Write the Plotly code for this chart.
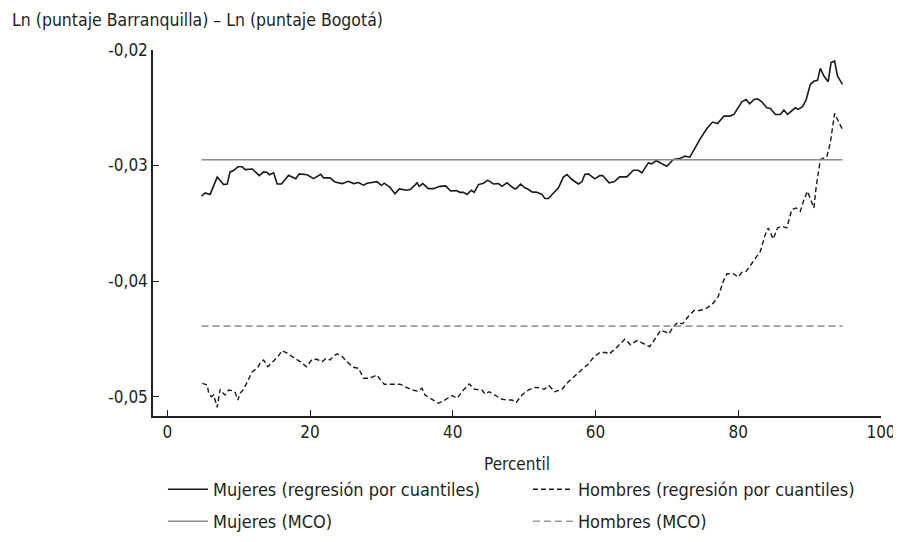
import plotly.graph_objects as go

# ---------------- data ----------------
muj_pct = [4.8, 5.3, 6.0, 7.0, 7.9, 8.4, 8.8, 9.3, 9.9, 10.5, 10.9, 11.9, 12.9, 13.5, 14.0, 14.3, 14.9,
           15.4, 16.0, 17.0, 18.0, 18.5, 19.6, 20.5, 21.5, 21.9, 22.8, 23.5, 24.5, 25.4, 26.1, 26.8,
           27.5, 28.0, 29.4, 30.0, 30.4, 31.2, 31.9, 32.5, 33.6, 34.1, 35.0, 35.3, 35.8, 36.6, 37.3,
           38.2, 39.0, 39.7, 40.5, 41.0, 41.5, 42.0, 42.6, 43.0, 43.6, 44.3, 44.9, 45.7, 46.4, 46.9,
           47.6, 48.6, 48.9, 49.5, 50.1, 50.5, 51.1, 51.8, 52.5, 52.9, 53.4, 54.1, 54.8, 55.5, 56.0,
           56.7, 57.6, 58.1, 58.5, 59.0, 59.9, 60.6, 61.0, 61.9, 62.6, 63.4, 64.4, 65.3, 66.0, 66.5,
           67.4, 67.9, 68.5, 69.3, 70.0, 70.9, 71.8, 72.5, 73.2, 73.7, 74.6, 75.6, 76.4, 77.1, 78.0,
           78.8, 79.4, 80.5, 81.1, 81.6, 82.2, 82.7, 83.3, 84.0, 84.5, 85.2, 85.9, 86.4, 86.9, 88.0,
           88.4, 89.0, 89.5, 90.1, 90.6, 91.1, 91.5, 92.0, 92.6, 93.0, 93.5, 93.9, 94.6]
muj_qr = [-0.03266, -0.03237, -0.03250, -0.03100, -0.03165, -0.03160, -0.03055, -0.03043, -0.03010,
          -0.03010, -0.03035, -0.03030, -0.03087, -0.03055, -0.03060, -0.03080, -0.03063, -0.03160,
          -0.03160, -0.03085, -0.03115, -0.03072, -0.03080, -0.03113, -0.03075, -0.03107, -0.03107,
          -0.03142, -0.03156, -0.03136, -0.03156, -0.03147, -0.03170, -0.03153, -0.03139, -0.03173,
          -0.03153, -0.03188, -0.03245, -0.03202, -0.03214, -0.03205, -0.03150, -0.03180, -0.03156,
          -0.03200, -0.03200, -0.03180, -0.03176, -0.03220, -0.03217, -0.03232, -0.03232, -0.03250,
          -0.03214, -0.03232, -0.03165, -0.03153, -0.03127, -0.03160, -0.03156, -0.03180, -0.03150,
          -0.03200, -0.03200, -0.03160, -0.03193, -0.03203, -0.03228, -0.03232, -0.03250, -0.03286,
          -0.03286, -0.03243, -0.03193, -0.03100, -0.03078, -0.03121, -0.03160, -0.03141, -0.03078,
          -0.03072, -0.03115, -0.03087, -0.03087, -0.03150, -0.03141, -0.03098, -0.03098, -0.03041,
          -0.03041, -0.03063, -0.02977, -0.02985, -0.02957, -0.02985, -0.03006, -0.02948, -0.02940,
          -0.02919, -0.02928, -0.02876, -0.02775, -0.02680, -0.02624, -0.02636, -0.02572, -0.02572,
          -0.02558, -0.02448, -0.02428, -0.02465, -0.02428, -0.02422, -0.02448, -0.02500, -0.02506,
          -0.02558, -0.02558, -0.02520, -0.02558, -0.02500, -0.02514, -0.02491, -0.02434, -0.02297,
          -0.02271, -0.02263, -0.02159, -0.02225, -0.02274, -0.02109, -0.02095, -0.02225, -0.02297]

hom_pct = [4.9, 5.6, 5.8, 6.2, 6.5, 7.0, 7.4, 7.7, 8.1, 8.6, 9.1, 9.5, 9.9, 10.2, 10.7, 11.4, 11.9,
           12.6, 13.0, 13.5, 14.1, 14.9, 15.5, 16.1, 16.8, 17.7, 18.6, 19.5, 20.3, 20.9, 21.7, 22.3,
           22.8, 23.3, 23.8, 24.5, 25.4, 26.1, 26.8, 27.5, 28.2, 28.9, 29.4, 29.8, 30.4, 31.5, 32.6,
           33.3, 34.3, 35.0, 35.7, 36.1, 37.0, 38.0, 38.7, 39.2, 39.9, 40.6, 41.5, 42.3, 43.1, 44.1,
           44.5, 45.1, 45.9, 46.8, 47.6, 48.3, 48.9, 49.7, 50.6, 51.5, 52.2, 52.8, 53.5, 54.3, 55.3,
           56.2, 57.1, 58.1, 59.0, 59.8, 60.6, 61.5, 61.9, 63.0, 64.1, 64.9, 65.8, 66.6, 67.6, 68.5,
           69.1, 69.7, 70.3, 70.9, 71.5, 72.2, 73.0, 73.8, 74.6, 75.6, 76.5, 77.2, 77.9, 78.4, 79.3,
           80.0, 80.5, 81.1, 81.9, 82.6, 83.1, 83.7, 84.2, 84.9, 85.5, 86.1, 86.8, 87.5, 88.1, 88.7,
           89.2, 89.7, 90.1, 90.6, 90.9, 91.5, 92.4, 92.9, 93.5, 94.0, 94.6]
hom_qr = [-0.04885, -0.04900, -0.04971, -0.05001, -0.04986, -0.05093, -0.04937, -0.04963, -0.04986,
          -0.04943, -0.04949, -0.04963, -0.05030, -0.04971, -0.04937, -0.04841, -0.04784, -0.04755,
          -0.04711, -0.04683, -0.04741, -0.04691, -0.04654, -0.04602, -0.04624, -0.04663, -0.04697,
          -0.04741, -0.04677, -0.04677, -0.04697, -0.04668, -0.04683, -0.04648, -0.04630, -0.04654,
          -0.04711, -0.04746, -0.04755, -0.04841, -0.04841, -0.04827, -0.04813, -0.04850, -0.04893,
          -0.04893, -0.04893, -0.04914, -0.04943, -0.04951, -0.04928, -0.04986, -0.05023, -0.05058,
          -0.05036, -0.05015, -0.04992, -0.05015, -0.04943, -0.04891, -0.04937, -0.04943, -0.04978,
          -0.04958, -0.04986, -0.05021, -0.05030, -0.05030, -0.05050, -0.04986, -0.04943, -0.04920,
          -0.04923, -0.04937, -0.04906, -0.04958, -0.04937, -0.04871, -0.04821, -0.04769, -0.04717,
          -0.04654, -0.04619, -0.04619, -0.04633, -0.04572, -0.04503, -0.04552, -0.04515, -0.04538,
          -0.04567, -0.04486, -0.04428, -0.04437, -0.04457, -0.04394, -0.04359, -0.04370, -0.04307,
          -0.04255, -0.04255, -0.04234, -0.04191, -0.04134, -0.04003, -0.03937, -0.03937, -0.03965,
          -0.03925, -0.03917, -0.03844, -0.03787, -0.03743, -0.03613, -0.03540, -0.03636, -0.03540,
          -0.03526, -0.03540, -0.03382, -0.03367, -0.03396, -0.03295, -0.03223, -0.03280, -0.03367,
          -0.03193, -0.02948, -0.02925, -0.02803, -0.02549, -0.02616, -0.02688]

mco_pct = [4.8, 94.6]
muj_mco = [-0.0295, -0.0295]
hom_mco = [-0.0439, -0.0439]

x_ticks = [0, 20, 40, 60, 80, 100]
y_ticks = [-0.02, -0.03, -0.04, -0.05]
y_ticktext = ["-0,02", "-0,03", "-0,04", "-0,05"]

names = ["Mujeres (regresión por cuantiles)", "Hombres (regresión por cuantiles)",
         "Mujeres (MCO)", "Hombres (MCO)"]
y_title = "Ln (puntaje Barranquilla) – Ln (puntaje Bogotá)"
x_title = "Percentil"

# ---------------- figure ----------------
FONT = "DejaVu Sans Condensed, Liberation Sans Narrow, DejaVu Sans, sans-serif"
TXT = "#231f20"

# the page body adds an 8px margin; size the figure so it fits the 901x542 window
W, H = 893, 534

fig = go.Figure()
fig.add_trace(go.Scatter(x=muj_pct, y=muj_qr, mode="lines", name=names[0],
                         line=dict(color="#1a1a1a", width=1.6), legend="legend"))
fig.add_trace(go.Scatter(x=hom_pct, y=hom_qr, mode="lines", name=names[1],
                         line=dict(color="#1a1a1a", width=1.4, dash="5px,3px"), legend="legend"))
fig.add_trace(go.Scatter(x=mco_pct, y=muj_mco, mode="lines", name=names[2],
                         line=dict(color="#8a8a8a", width=1.6), legend="legend2"))
fig.add_trace(go.Scatter(x=mco_pct, y=hom_mco, mode="lines", name=names[3],
                         line=dict(color="#9a9a9a", width=1.6, dash="7px,4px"), legend="legend2"))

axis_common = dict(showline=True, linecolor="#231f20", linewidth=1.5, ticks="inside",
                   ticklen=6, tickwidth=1.3, tickcolor="#231f20", showgrid=False,
                   zeroline=False, tickfont=dict(family=FONT, size=17, color=TXT))

PLOT_H = 366
leg_common = dict(orientation="h", x=-0.0001, xanchor="left", yanchor="top",
                  indentation=10, itemwidth=40, entrywidth=300, entrywidthmode="pixels",
                  bgcolor="rgba(0,0,0,0)", font=dict(family=FONT, size=18, color=TXT))

fig.update_layout(
    width=W, height=H,
    margin=dict(l=145, r=20, t=42, b=126, autoexpand=False),
    plot_bgcolor="white", paper_bgcolor="white",
    font=dict(family=FONT, size=18, color=TXT),
    title=dict(text=y_title, x=4 / W, xanchor="left", xref="container",
               y=1 - 12 / H, yanchor="middle", yref="container",
               font=dict(family=FONT, size=17.5, color=TXT)),
    xaxis=dict(range=[-2, 100], tickvals=x_ticks,
               title=dict(text=x_title, standoff=17, font=dict(family=FONT, size=17, color=TXT)),
               **axis_common),
    yaxis=dict(range=[-0.05168, -0.02], tickvals=y_ticks, ticktext=y_ticktext, **axis_common),
    legend=dict(y=-55 / PLOT_H, **leg_common),
    legend2=dict(y=-87 / PLOT_H, **leg_common),
)

fig.write_html("out.html")
